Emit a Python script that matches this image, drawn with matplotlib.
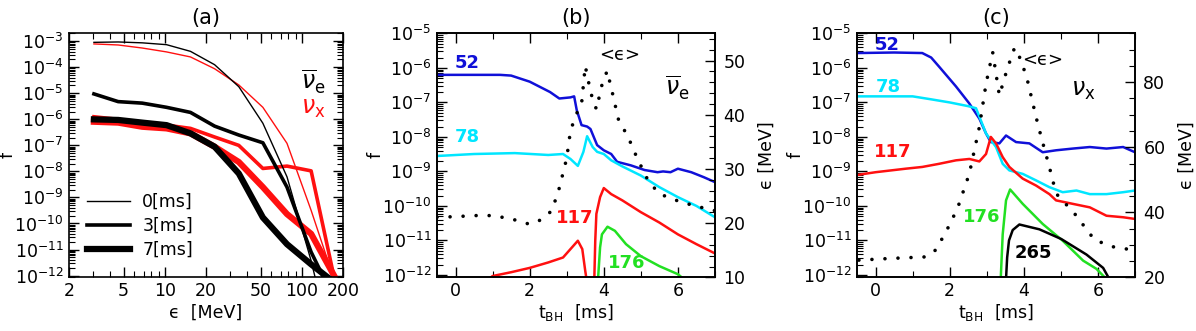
import matplotlib
matplotlib.use('Agg')
import matplotlib.pyplot as plt
from matplotlib.ticker import LogLocator, NullFormatter, FixedLocator, MultipleLocator, FuncFormatter

plt.rcParams['font.family'] = ['DejaVu Sans']
plt.rcParams['mathtext.fontset'] = 'dejavusans'
plt.rcParams['font.size'] = 12.5

# ---------------- Panel (a): spectra ----------------
energy = [3.04, 4.57, 6.85, 10.3, 15.4, 23.1, 34.7, 52, 78, 117, 176]
f_nue_0ms = [9.1e-4, 9.4e-4, 8.7e-4, 7.4e-4, 4.1e-4, 1.26e-4, 1.8e-5, 7.1e-7, 6.2e-9, 3.7e-12, 5e-16]
f_nue_3ms = [9.5e-6, 4.8e-6, 4.2e-6, 2.9e-6, 1.85e-6, 5.5e-7, 2.5e-7, 1.26e-7, 2.5e-9, 8e-12, 1e-13]
f_nue_7ms = [1.0e-6, 9.5e-7, 7.5e-7, 6e-7, 2.9e-7, 8.9e-8, 8.3e-9, 1.7e-10, 1.6e-11, 2.7e-12, 5e-13]
f_nux_0ms = [7.9e-4, 7.2e-4, 5.5e-4, 3.9e-4, 2.5e-4, 8.8e-5, 2.1e-5, 2.9e-6, 1.2e-7, 3.2e-10, 5e-13]
f_nux_3ms = [1.26e-6, 1.0e-6, 7.5e-7, 6e-7, 4.5e-7, 2.1e-7, 1.0e-7, 1.3e-8, 1.6e-8, 1.05e-8, 5e-13]
f_nux_7ms = [8.1e-7, 7.5e-7, 5.2e-7, 4.5e-7, 2.9e-7, 8.9e-8, 2.3e-8, 2.5e-9, 2.3e-10, 4e-11, 8e-13]
a_xticks = [2, 5, 10, 20, 50, 100, 200]
legend_labels = ['0[ms]', '3[ms]', '7[ms]']

# ---------------- Panel (b): anti-nu_e ----------------
tb_52 = [-0.5, 0.5, 1.2, 1.5, 2.0, 2.55, 2.8, 3.1, 3.2, 3.27, 3.4, 3.55, 3.64, 3.82, 4.0, 4.2,
         4.36, 4.73, 5.1, 5.45, 5.6, 5.8, 6.0, 6.36, 6.7, 7.0]
fb_52 = [6.3e-7, 6.3e-7, 6.3e-7, 6.0e-7, 4.0e-7, 2.0e-7, 1.3e-7, 1.4e-7, 1.5e-7, 6.0e-8, 2.2e-8,
         2.0e-8, 1.7e-8, 5.8e-9, 4.1e-9, 3.2e-9, 1.9e-9, 1.5e-9, 1.1e-9, 9.5e-10, 1.0e-9, 9.5e-10,
         1.2e-9, 9.5e-10, 6.8e-10, 4.9e-10]
tb_78 = [-0.5, 0.5, 1.6, 2.5, 2.9, 3.1, 3.3, 3.45, 3.55, 3.7, 3.82, 4.0, 4.2, 4.5, 5.0, 5.5, 6.0, 6.5, 7.0]
fb_78 = [2.8e-9, 3.2e-9, 3.4e-9, 3.0e-9, 3.2e-9, 2.3e-9, 1.45e-9, 3.7e-9, 1.05e-8, 5.1e-9, 3.7e-9,
         3.2e-9, 2.1e-9, 1.4e-9, 7.6e-10, 3.5e-10, 1.8e-10, 1.0e-10, 4.7e-11]
tb_117 = [0.8, 1.0, 1.5, 2.0, 2.5, 2.9, 3.1, 3.3, 3.42, 3.5, 3.56, 3.62, 3.70, 3.74, 3.77, 3.8, 3.9,
          4.0, 4.2, 4.5, 5.0, 5.5, 6.0, 6.5, 7.0]
fb_117 = [6.3e-13, 9.3e-13, 1.2e-12, 1.6e-12, 2.3e-12, 3.2e-12, 5.6e-12, 9.8e-12, 5.6e-12, 1.3e-12,
          5e-13, 1e-14, 1e-14, 5e-13, 1.0e-11, 5.9e-11, 1.8e-10, 3.3e-10, 2.2e-10, 1.45e-10, 6.6e-11,
          3.3e-11, 1.5e-11, 7.8e-12, 4.2e-12]
tb_176 = [3.82, 3.9, 3.95, 4.1, 4.3, 4.6, 5.0, 5.5, 6.0, 6.25]
fb_176 = [3e-13, 6.3e-12, 1.5e-11, 2.5e-11, 1.9e-11, 7.8e-12, 3.5e-12, 1.8e-12, 1.05e-12, 6.3e-13]
tb_eps = [-0.5, 0, 0.5, 1.0, 1.5, 2.0, 2.3, 2.6, 2.8, 3.0, 3.1, 3.25, 3.4, 3.5, 3.65, 3.8, 3.95,
          4.09, 4.22, 4.4, 4.65, 4.9, 5.2, 5.5, 6.0, 6.45, 7.0]
eb_eps = [21.1, 21.2, 21.4, 21.4, 20.8, 19.8, 20.6, 22.3, 26.5, 32, 37, 40, 42, 49, 44, 41, 45.5,
          48.1, 44.4, 39, 36, 32, 27.8, 25.4, 24.1, 23.2, 22.3]

# ---------------- Panel (c): nu_x ----------------
tc_52 = [-0.5, 0.5, 1.26, 1.5, 1.71, 2.17, 2.53, 2.80, 2.98, 3.11, 3.34, 3.52, 3.79, 4.15, 4.51,
         4.87, 5.32, 5.78, 6.23, 6.68, 7.0]
fc_52 = [2.7e-6, 2.8e-6, 2.7e-6, 2.0e-6, 1.1e-6, 2.9e-7, 9.3e-8, 3.4e-8, 1.26e-8, 7.1e-9, 6.5e-9,
         1.1e-8, 7.1e-9, 6.5e-9, 3.6e-9, 4.1e-9, 4.6e-9, 5.1e-9, 4.6e-9, 5.1e-9, 3.6e-9]
tc_78 = [-0.5, 1.0, 1.5, 2.0, 2.5, 2.71, 2.98, 3.25, 3.43, 3.61, 3.97, 4.33, 4.69, 5.05, 5.42, 5.78,
         6.23, 6.68, 7.0]
fc_78 = [1.5e-7, 1.5e-7, 1.23e-7, 1.0e-7, 7.8e-8, 6.8e-8, 1.26e-8, 5.1e-9, 1.66e-9, 1.07e-9,
         8.5e-10, 5.5e-10, 3.5e-10, 2.5e-10, 2.8e-10, 2.2e-10, 2.2e-10, 2.5e-10, 2.8e-10]
tc_117 = [-0.5, 0, 0.81, 1.26, 1.71, 2.17, 2.53, 2.80, 2.98, 3.11, 3.25, 3.43, 3.61, 3.97, 4.33,
          4.69, 4.87, 5.32, 5.78, 6.23, 6.68, 7.0]
fc_117 = [7.9e-10, 9.5e-10, 1.2e-9, 1.35e-9, 1.66e-9, 2.1e-9, 2.3e-9, 1.95e-9, 3.2e-9, 1.0e-8,
          6.5e-9, 2.6e-9, 1.35e-9, 6.2e-10, 3.9e-10, 2.2e-10, 1.45e-10, 1.15e-10, 9.1e-11, 5.2e-11,
          4.7e-11, 4.2e-11]
tc_176 = [3.36, 3.43, 3.52, 3.63, 3.97, 4.51, 5.05, 5.6, 5.96, 6.3]
fc_176 = [3e-13, 1.5e-11, 1.45e-10, 3.0e-10, 1.15e-10, 3.0e-11, 9.8e-12, 2.6e-12, 1.5e-12, 6.3e-13]
tc_265 = [3.5, 3.55, 3.6, 3.7, 3.88, 4.42, 5.01, 5.69, 6.14, 6.35]
fc_265 = [3e-13, 3.2e-12, 1e-11, 2.0e-11, 2.9e-11, 2.1e-11, 1.1e-11, 3.9e-12, 1.6e-12, 6.3e-13]
tc_eps = [-0.45, 0.36, 1.35, 1.62, 1.90, 2.21, 2.53, 2.80, 2.98, 3.16, 3.34, 3.55, 3.75, 3.93,
          4.11, 4.33, 4.47, 4.69, 4.87, 5.37, 5.91, 6.41, 6.95]
ec_eps = [25.3, 25.8, 26.3, 28.4, 34.0, 41.2, 51.9, 66.2, 79.5, 89.2, 75.9, 84, 90.6, 86.7, 80.0,
          69.3, 63.1, 53.9, 45.8, 39.6, 31.5, 29.4, 28.4]

BLUE = '#1010d8'
CYAN = '#00e6ff'
RED = '#ff1010'
GREEN = '#22e022'

fig = plt.figure(figsize=(11.96, 3.31), dpi=100)
H = 0.737
B = 0.162
axa = fig.add_axes([0.0577, B, 0.2291, H])
axb = fig.add_axes([0.3654, B, 0.2324, H])
axc = fig.add_axes([0.7166, B, 0.2324, H])


def style_log_y(ax, right=True):
    ax.set_yscale('log')
    ax.yaxis.set_major_locator(LogLocator(base=10, numticks=30))
    ax.yaxis.set_minor_locator(LogLocator(base=10, subs=[2, 3, 4, 5, 6, 7, 8, 9], numticks=30))
    ax.yaxis.set_minor_formatter(NullFormatter())
    ax.tick_params(axis='both', which='both', direction='in', top=True, right=right)
    ax.tick_params(which='major', length=7, width=1.0)
    ax.tick_params(which='minor', length=4, width=0.8)
    ax.tick_params(axis='y', which='major', pad=4)
    for s in ax.spines.values():
        s.set_linewidth(1.2)


def place_labels(ax, xlabel, fx):
    ax.set_xlabel(xlabel)
    ax.xaxis.label.set_va('center')
    ax.xaxis.set_label_coords(0.5, -0.145)
    ax.set_ylabel('f')
    ax.yaxis.label.set_va('center')
    ax.yaxis.set_label_coords(fx, 0.5)


DOTS = (0, (0.01, 3.6))

# ---- (a) ----
axa.plot(energy, f_nux_0ms, color=RED, lw=1.0)
axa.plot(energy, f_nux_3ms, color=RED, lw=2.6)
axa.plot(energy, f_nux_7ms, color=RED, lw=4.5)
h0, = axa.plot(energy, f_nue_0ms, color='black', lw=1.0)
h3, = axa.plot(energy, f_nue_3ms, color='black', lw=2.6)
h7, = axa.plot(energy, f_nue_7ms, color='black', lw=4.5)
axa.set_xscale('log')
style_log_y(axa)
axa.set_xlim(2, 200)
axa.set_ylim(8.5e-13, 2.0e-3)
axa.xaxis.set_major_locator(FixedLocator(a_xticks))
axa.xaxis.set_major_formatter(FuncFormatter(lambda v, p: '%d' % round(v)))
axa.xaxis.set_minor_locator(LogLocator(base=10, subs=[1, 2, 3, 4, 5, 6, 7, 8, 9], numticks=30))
axa.xaxis.set_minor_formatter(NullFormatter())
place_labels(axa, 'ϵ  [MeV]', -0.223)
axa.set_title('(a)', pad=7)
axa.legend([h0, h3, h7], legend_labels, loc='lower left', bbox_to_anchor=(0.065, 0.075),
           frameon=False, handlelength=2.5, handletextpad=0.7, labelspacing=0.35,
           borderpad=0, borderaxespad=0, fontsize=12.5)
axa.text(0.89, 0.80, r'$\overline{\nu}_{\mathrm{e}}$', transform=axa.transAxes, ha='center',
         va='center', fontsize=17, color='black')
axa.text(0.89, 0.695, r'$\nu_{\mathrm{x}}$', transform=axa.transAxes, ha='center',
         va='center', fontsize=17, color=RED)


def time_panel(ax, title, curves, teps, eeps, eps_lim, eps_major, eps_minor, labels, nu_label):
    for t, f, c in curves:
        ax.plot(t, f, color=c, lw=1.8)
    style_log_y(ax, right=False)
    ax.set_xlim(-0.5, 7)
    ax.set_ylim(8.5e-13, 1e-5)
    ax.xaxis.set_major_locator(MultipleLocator(2))
    ax.xaxis.set_minor_locator(MultipleLocator(1))
    place_labels(ax, r'$\mathregular{t_{BH}}$  [ms]', -0.22)
    ax.set_title(title, pad=7)
    ax2 = ax.twinx()
    ax2.plot(teps, eeps, color='black', lw=2.6, linestyle=DOTS, dash_capstyle='round')
    ax2.set_ylim(*eps_lim)
    ax2.yaxis.set_major_locator(MultipleLocator(eps_major))
    ax2.yaxis.set_minor_locator(MultipleLocator(eps_minor))
    ax2.tick_params(axis='y', which='both', direction='in')
    ax2.tick_params(which='major', length=7, width=1.0, pad=6)
    ax2.tick_params(which='minor', length=4, width=0.8)
    ax2.set_ylabel('ϵ [MeV]')
    ax2.yaxis.label.set_va('center')
    ax2.yaxis.set_label_coords(1.187, 0.5)
    for s in ax2.spines.values():
        s.set_linewidth(1.2)
    for txt, x, y, c, w in labels:
        ax.text(x, y, txt, transform=ax.transAxes, ha='center', va='center', color=c,
                fontsize=13, fontweight=w)
    ax.text(nu_label[1], nu_label[2], nu_label[0], transform=ax.transAxes, ha='center',
            va='center', fontsize=17)
    return ax2


time_panel(axb, '(b)',
           [(tb_52, fb_52, BLUE), (tb_78, fb_78, CYAN), (tb_117, fb_117, RED),
            (tb_176, fb_176, GREEN)],
           tb_eps, eb_eps, (10, 55), 10, 2,
           [('52', 0.108, 0.878, BLUE, 'bold'), ('78', 0.108, 0.575, CYAN, 'bold'),
            ('117', 0.496, 0.243, RED, 'bold'), ('176', 0.683, 0.059, GREEN, 'bold'),
            ('<ϵ>', 0.658, 0.911, 'black', 'normal')],
           (r'$\overline{\nu}_{\mathrm{e}}$', 0.863, 0.776))

time_panel(axc, '(c)',
           [(tc_52, fc_52, BLUE), (tc_78, fc_78, CYAN), (tc_117, fc_117, RED),
            (tc_176, fc_176, GREEN), (tc_265, fc_265, 'black')],
           tc_eps, ec_eps, (20, 95), 20, 5,
           [('52', 0.107, 0.952, BLUE, 'bold'), ('78', 0.112, 0.781, CYAN, 'bold'),
            ('117', 0.13, 0.515, RED, 'bold'), ('176', 0.449, 0.248, GREEN, 'bold'),
            ('265', 0.633, 0.098, 'black', 'bold'), ('<ϵ>', 0.669, 0.89, 'black', 'normal')],
           (r'$\nu_{\mathrm{x}}$', 0.813, 0.768))

fig.savefig('out.png', dpi=100)
